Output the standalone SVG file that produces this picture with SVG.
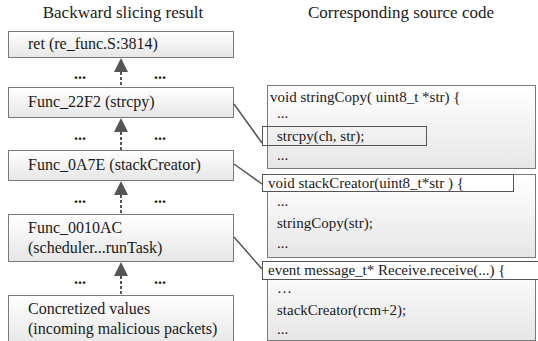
<svg xmlns="http://www.w3.org/2000/svg" width="538" height="341" viewBox="0 0 538 341">
<defs>
<linearGradient id="g" x1="0" y1="0" x2="0" y2="1">
<stop offset="0" stop-color="#ffffff"/>
<stop offset="1" stop-color="#e6e6e6"/>
</linearGradient>
<style>
text{font-family:'Liberation Serif','Times New Roman',serif;fill:#1a1a1a}
.t{font-size:17px}
.n{font-size:16px}
.c{font-size:15px}
.box{fill:url(#g);stroke:#7a7a7a;stroke-width:1}
.hl{fill:#ffffff;stroke:#555555;stroke-width:1}
.hlc{fill:none;stroke:#555555;stroke-width:1}
.dots{font-size:16px;font-weight:bold}
.dash{stroke:#555555;stroke-width:2;stroke-dasharray:3 2;fill:none}
.head{fill:#555555}
.link{stroke:#555555;stroke-width:1.5;fill:none}
</style>
</defs>
<text class="t" x="123" y="18" text-anchor="middle">Backward slicing result</text>
<text class="t" x="401" y="18" text-anchor="middle">Corresponding source code</text>

<g id="n1"><rect class="box" x="8.5" y="31.5" width="225" height="26"/><text class="n" x="28" y="49">ret (re_func.S:3814)</text></g>
<g id="n2"><rect class="box" x="8.5" y="87.5" width="225" height="30"/><text class="n" x="28" y="107">Func_22F2 (strcpy)</text></g>
<g id="n3"><rect class="box" x="8.5" y="150.5" width="225" height="30"/><text class="n" x="28" y="170">Func_0A7E (stackCreator)</text></g>
<g id="n4"><rect class="box" x="8.5" y="214.5" width="225" height="47"/><text class="n" x="28" y="233">Func_0010AC</text><text class="n" x="28" y="253">(scheduler...runTask)</text></g>
<g id="n5"><rect class="box" x="8.5" y="295.5" width="225" height="50"/><text class="n" x="28" y="314">Concretized values</text><text class="n" x="28" y="334">(incoming malicious packets)</text></g>

<g id="s1"><rect class="box" x="267.5" y="85.5" width="268" height="83"/>
<text class="c" x="270" y="102">void stringCopy( uint8_t *str) {</text>
<text class="c" x="277" y="118">...</text>
<rect class="hlc" x="262.5" y="126.5" width="164" height="19"/>
<text class="c" x="277" y="141">strcpy(ch, str);</text>
<text class="c" x="277" y="160">...</text></g>

<g id="s2"><rect class="box" x="267.5" y="174.5" width="268" height="83"/>
<rect class="hl" x="262.5" y="174.5" width="251" height="17"/>
<text class="c" x="268" y="188">void stackCreator(uint8_t*str ) {</text>
<text class="c" x="277" y="206">...</text>
<text class="c" x="277" y="228">stringCopy(str);</text>
<text class="c" x="277" y="248">...</text></g>

<g id="s3"><rect class="box" x="267.5" y="261.5" width="268" height="79"/>
<rect class="hl" x="262.5" y="261.5" width="280" height="18"/>
<text class="c" x="268" y="275">event message_t* Receive.receive(...) {</text>
<text class="c" x="277" y="293">…</text>
<text class="c" x="277" y="315">stackCreator(rcm+2);</text>
<text class="c" x="277" y="334">...</text></g>

<g id="connectors">
<polygon class="head" points="121,58 114,72 128,72"/><line class="dash" x1="121" y1="72" x2="121" y2="87"/>
<polygon class="head" points="121,118 114,132 128,132"/><line class="dash" x1="121" y1="132" x2="121" y2="150"/>
<polygon class="head" points="121,181 114,195 128,195"/><line class="dash" x1="121" y1="195" x2="121" y2="214"/>
<polygon class="head" points="121,262 114,276 128,276"/><line class="dash" x1="121" y1="276" x2="121" y2="295"/>
<line class="link" x1="234" y1="104" x2="262" y2="143"/>
<line class="link" x1="234" y1="164" x2="262" y2="184"/>
<line class="link" x1="234" y1="237" x2="262" y2="269"/>
</g>
<g id="dots">
<text class="dots" x="80" y="79" text-anchor="middle">...</text><text class="dots" x="160" y="79" text-anchor="middle">...</text>
<text class="dots" x="80" y="140" text-anchor="middle">...</text><text class="dots" x="160" y="140" text-anchor="middle">...</text>
<text class="dots" x="80" y="203" text-anchor="middle">...</text><text class="dots" x="160" y="203" text-anchor="middle">...</text>
<text class="dots" x="80" y="284" text-anchor="middle">...</text><text class="dots" x="160" y="284" text-anchor="middle">...</text>
</g>
</svg>
